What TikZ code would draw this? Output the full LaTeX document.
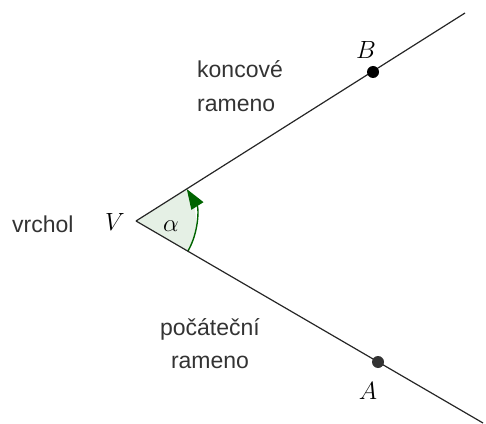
\documentclass[tikz,border=0pt]{standalone}
\usepackage{fontspec}
\newfontfamily\lblfont{Liberation Sans}
\usetikzlibrary{arrows.meta,calc}
\definecolor{txtgray}{HTML}{333333}
\definecolor{angfill}{HTML}{E5F0E5}
\definecolor{angline}{HTML}{006400}
\tikzset{
  ray/.style={line width=1.2pt, draw=black!85},
  lbl/.style={inner sep=0pt, text=txtgray, font=\lblfont\fontsize{23}{27}\selectfont},
  mlbl/.style={inner sep=0pt, font=\fontsize{26}{30}\selectfont},
  pt/.style={circle, inner sep=0pt, minimum size=12pt},
}
\begin{document}
\begin{tikzpicture}[x=1pt,y=1pt]
\useasboundingbox (0,0) rectangle (486,423);
\coordinate (V) at (136,202);
\coordinate (Uend) at (465,410);
\coordinate (Lend) at (483,0);
\fill[angfill] (V) -- ++(-30.23:60) arc[start angle=-30.23, end angle=32.16, radius=60] -- cycle;
\draw[angline, line width=1.4pt, -{Triangle[length=20pt,width=14pt]}]
  ($(V)+(-30.23:60)$) arc[start angle=-30.23, end angle=32.16, radius=60];
\draw[ray] (V) -- (Uend);
\draw[ray] (V) -- (Lend);
\node[pt, fill=black] (B) at (373,351) {};
\node[pt, fill=black!80] (A) at (378,61) {};
\node[mlbl] (Blbl) at (366,373) {$B$};
\node[mlbl] (Albl) at (368,32) {$A$};
\node[mlbl] (Vlbl) at (115,201) {$V$};
\node[mlbl] (alpha) at (171,197) {$\alpha$};
\node[lbl, anchor=base west] (vrchol) at (12,190) {vrchol};
\node[lbl, anchor=base west] (kon1) at (197,345) {koncové};
\node[lbl, anchor=base west] (kon2) at (197,311) {rameno};
\node[lbl, anchor=base] (poc1) at (210,88) {počáteční};
\node[lbl, anchor=base] (poc2) at (210,55) {rameno};
\end{tikzpicture}
\end{document}
